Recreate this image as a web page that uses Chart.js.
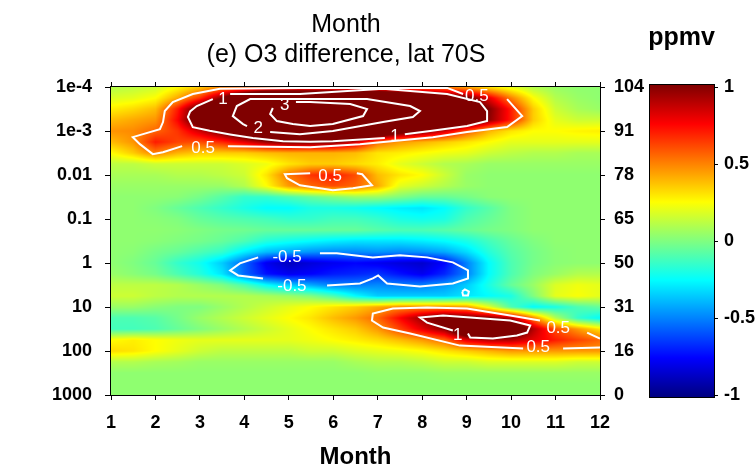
<!DOCTYPE html>
<html>
<head>
<meta charset="utf-8">
<script src="https://cdn.jsdelivr.net/npm/chart.js@4/dist/chart.umd.min.js"></script>
<style>
  html, body { margin: 0; padding: 0; background: #fff; }
  canvas { display: block; }
</style>
</head>
<body>
<canvas id="o3" width="755" height="467"></canvas>
<script>
// O3 difference at 70S: month vs pressure, shaded field plus white contours.

const MONTHS = [1, 1.5, 2, 2.5, 3, 3.5, 4, 4.5, 5, 5.5, 6, 6.5, 7, 7.5, 8, 8.5, 9, 9.5, 10, 10.5, 11, 11.5, 12];
// log10(pressure / hPa), top of the atmosphere first
const LOG_P = [-4, -3.75, -3.5, -3.25, -3, -2.75, -2.5, -2.25, -2, -1.75, -1.5, -1.25, -1, -0.75,
  -0.5, -0.25, 0, 0.25, 0.5, 0.75, 1, 1.25, 1.5, 1.75, 2, 2.25, 2.5, 2.75, 3];

// ppmv, one row per LOG_P level, one column per MONTHS entry
const O3_DIFF = [
  [0.1, 0.12, 0.15, 0.25, 0.35, 0.48, 0.52, 0.52, 0.52, 0.52, 0.52, 0.52, 0.52, 0.52, 0.52, 0.5, 0.42, 0.3, 0.2, 0.1, 0.05, 0.03, 0.03],
  [0.18, 0.2, 0.25, 0.42, 0.65, 1.0, 1.4, 1.8, 1.9, 1.9, 1.9, 1.9, 1.7, 1.5, 1.3, 1.15, 1.05, 0.8, 0.5, 0.25, 0.1, 0.05, 0.03],
  [0.28, 0.32, 0.38, 0.7, 1.15, 1.5, 2.2, 2.9, 3.5, 3.8, 3.8, 3.5, 2.6, 2.3, 1.9, 1.5, 1.25, 1.0, 0.7, 0.35, 0.15, 0.08, 0.05],
  [0.38, 0.42, 0.46, 0.75, 1.2, 1.6, 2.1, 2.7, 3.3, 3.6, 3.5, 3.1, 2.6, 2.3, 1.9, 1.5, 1.25, 0.98, 0.7, 0.35, 0.2, 0.15, 0.15],
  [0.46, 0.48, 0.55, 0.65, 0.85, 1.05, 1.3, 1.6, 1.95, 2.1, 2.0, 1.7, 1.4, 1.15, 1.02, 0.85, 0.6, 0.4, 0.3, 0.25, 0.25, 0.27, 0.28],
  [0.38, 0.46, 0.7, 0.62, 0.6, 0.68, 0.8, 0.95, 1.02, 1.02, 1.0, 0.85, 0.55, 0.45, 0.4, 0.35, 0.3, 0.25, 0.2, 0.2, 0.2, 0.2, 0.2],
  [0.25, 0.35, 0.5, 0.4, 0.35, 0.35, 0.35, 0.38, 0.4, 0.4, 0.4, 0.38, 0.3, 0.28, 0.25, 0.22, 0.2, 0.15, 0.12, 0.1, 0.1, 0.08, 0.08],
  [0.12, 0.12, 0.15, 0.15, 0.15, 0.15, 0.18, 0.22, 0.3, 0.35, 0.35, 0.32, 0.28, 0.2, 0.15, 0.1, 0.08, 0.05, 0.05, 0.05, 0.05, 0.05, 0.05],
  [0.08, 0.08, 0.08, 0.1, 0.1, 0.12, 0.15, 0.3, 0.52, 0.65, 0.7, 0.6, 0.38, 0.3, 0.25, 0.15, 0.05, 0.03, 0.03, 0.03, 0.03, 0.03, 0.03],
  [0.05, 0.05, 0.05, 0.05, 0.05, 0.05, 0.1, 0.25, 0.45, 0.55, 0.6, 0.55, 0.42, 0.2, 0.15, 0.1, 0.05, 0.03, 0.03, 0.03, 0.03, 0.03, 0.03],
  [0.03, 0.03, 0.03, 0.02, -0.02, -0.08, -0.15, -0.15, -0.1, -0.05, 0.0, 0.05, 0.05, 0.0, -0.05, -0.05, -0.02, 0.02, 0.03, 0.03, 0.03, 0.03, 0.03],
  [0.03, 0.03, 0.0, -0.05, -0.1, -0.15, -0.2, -0.25, -0.25, -0.2, -0.2, -0.22, -0.25, -0.28, -0.3, -0.25, -0.15, -0.08, 0.0, 0.03, 0.03, 0.03, 0.03],
  [0.03, 0.03, 0.02, 0.0, -0.05, -0.08, -0.1, -0.12, -0.15, -0.15, -0.12, -0.12, -0.15, -0.2, -0.22, -0.2, -0.1, -0.05, 0.0, 0.03, 0.03, 0.03, 0.03],
  [0.03, 0.03, 0.03, 0.02, 0.0, -0.02, -0.03, -0.05, -0.05, -0.05, -0.05, -0.05, -0.08, -0.1, -0.1, -0.08, -0.05, -0.02, 0.0, 0.03, 0.03, 0.03, 0.03],
  [0.03, 0.03, 0.02, 0.0, -0.02, -0.05, -0.1, -0.18, -0.22, -0.25, -0.28, -0.3, -0.3, -0.3, -0.28, -0.25, -0.2, -0.12, -0.05, 0.0, 0.03, 0.03, 0.03],
  [0.03, 0.02, -0.02, -0.05, -0.1, -0.15, -0.28, -0.38, -0.42, -0.46, -0.48, -0.48, -0.46, -0.48, -0.46, -0.42, -0.32, -0.18, -0.08, -0.02, 0.02, 0.03, 0.03],
  [0.03, 0.0, -0.05, -0.15, -0.22, -0.35, -0.55, -0.78, -0.88, -0.82, -0.78, -0.75, -0.78, -0.82, -0.85, -0.75, -0.5, -0.25, -0.1, -0.02, 0.02, 0.03, 0.03],
  [0.05, 0.02, -0.02, -0.1, -0.18, -0.3, -0.55, -0.72, -0.78, -0.75, -0.7, -0.68, -0.65, -0.72, -0.78, -0.68, -0.5, -0.25, -0.1, 0.0, 0.05, 0.1, 0.1],
  [0.12, 0.12, 0.12, 0.1, 0.05, 0.0, -0.1, -0.25, -0.35, -0.42, -0.5, -0.5, -0.48, -0.5, -0.5, -0.45, -0.35, -0.2, -0.05, 0.05, 0.18, 0.22, 0.2],
  [0.15, 0.15, 0.12, 0.1, 0.1, 0.1, 0.1, 0.08, 0.05, 0.0, -0.1, -0.25, -0.35, -0.35, -0.35, -0.35, -0.3, -0.25, -0.2, 0.0, 0.2, 0.24, 0.2],
  [0.05, 0.05, 0.02, 0.0, 0.0, 0.05, 0.1, 0.15, 0.2, 0.25, 0.3, 0.35, 0.42, 0.48, 0.48, 0.48, 0.45, 0.2, -0.1, -0.25, -0.2, -0.1, -0.05],
  [-0.1, -0.1, -0.08, -0.02, 0.05, 0.1, 0.15, 0.2, 0.25, 0.3, 0.38, 0.45, 0.55, 0.75, 0.95, 1.1, 1.05, 1.0, 0.9, 0.5, 0.1, -0.15, -0.25],
  [-0.12, -0.12, -0.1, -0.05, 0.0, 0.05, 0.1, 0.15, 0.2, 0.25, 0.3, 0.35, 0.45, 0.62, 0.8, 0.97, 1.4, 1.5, 1.3, 0.9, 0.6, 0.45, 0.3],
  [0.25, 0.28, 0.25, 0.22, 0.2, 0.2, 0.2, 0.2, 0.2, 0.22, 0.25, 0.28, 0.32, 0.38, 0.45, 0.55, 0.8, 0.9, 0.9, 0.8, 0.7, 0.62, 0.55],
  [0.32, 0.3, 0.25, 0.2, 0.15, 0.12, 0.12, 0.12, 0.12, 0.15, 0.15, 0.18, 0.2, 0.22, 0.25, 0.3, 0.35, 0.4, 0.45, 0.45, 0.45, 0.45, 0.45],
  [0.1, 0.1, 0.08, 0.07, 0.05, 0.05, 0.05, 0.05, 0.05, 0.05, 0.05, 0.08, 0.1, 0.1, 0.12, 0.15, 0.15, 0.18, 0.18, 0.18, 0.18, 0.15, 0.15],
  [0.03, 0.03, 0.03, 0.03, 0.03, 0.03, 0.03, 0.03, 0.03, 0.03, 0.03, 0.03, 0.04, 0.04, 0.04, 0.05, 0.05, 0.05, 0.05, 0.05, 0.05, 0.05, 0.05],
  [0.03, 0.03, 0.03, 0.03, 0.03, 0.03, 0.03, 0.03, 0.03, 0.03, 0.03, 0.03, 0.03, 0.03, 0.03, 0.03, 0.03, 0.03, 0.03, 0.03, 0.03, 0.03, 0.03],
  [0.03, 0.03, 0.03, 0.03, 0.03, 0.03, 0.03, 0.03, 0.03, 0.03, 0.03, 0.03, 0.03, 0.03, 0.03, 0.03, 0.03, 0.03, 0.03, 0.03, 0.03, 0.03, 0.03],
];

const P_TICKS = [1e-4, 1e-3, 0.01, 0.1, 1, 10, 100, 1000];
const P_TICK_LABELS = ['1e-4', '1e-3', '0.01', '0.1', '1', '10', '100', '1000'];
const ALT_TICK_LABELS = ['104', '91', '78', '65', '50', '31', '16', '0'];
const CBAR_TICKS = [-1, -0.5, 0, 0.5, 1];

// contour paths as [month, hPa], split where a label sits on the line
const C05_TOP_A = [[8.92, 1.44e-4], [8.56, 1.05e-4], [7.5, 1.05e-4], [5.25, 1.05e-4], [3.45, 1.1e-4], [2.84, 1.44e-4],
  [2.39, 2.2e-4], [2.21, 3.52e-4], [2.17, 6.27e-4], [2.1, 9.05e-4], [1.72, 1.18e-3], [1.49, 1.38e-3],
  [1.65, 1.99e-3], [1.94, 3.36e-3], [2.17, 3.03e-3], [2.6, 2.21e-3]];
const C05_TOP_B = [[3.63, 2.21e-3], [5.48, 2.33e-3], [6.6, 1.99e-3], [8.24, 1.38e-3], [9.01, 1.06e-3], [9.91, 8.15e-4],
  [10.25, 4.58e-4], [9.91, 1.88e-4]];
const C1_TOP_A = [[3.68, 1.44e-4], [5.25, 1.44e-4], [7.12, 1.1e-4], [7.73, 1.23e-4], [8.56, 1.44e-4], [9.3, 2.2e-4],
  [9.46, 3.52e-4], [9.46, 5.95e-4], [9.01, 7.73e-4], [8.18, 1.0e-3], [7.61, 1.18e-3]];
const C1_TOP_B = [[7.16, 1.45e-3], [5.99, 1.7e-3], [5.48, 1.75e-3], [4.87, 1.7e-3], [4.19, 1.45e-3], [3.68, 1.2e-3],
  [3.22, 9.9e-4], [2.84, 8.2e-4], [2.73, 4.82e-4], [2.78, 3.6e-4], [2.93, 2.71e-4], [3.29, 1.88e-4]];
const C2_TOP = [[4.06, 7.73e-4], [3.97, 6.96e-4], [3.74, 4.58e-4], [3.83, 2.71e-4], [4.13, 1.88e-4], [5.25, 1.88e-4],
  [6.76, 1.88e-4], [7.73, 2.71e-4], [7.95, 3.52e-4], [7.79, 4.82e-4], [7.12, 6.27e-4], [5.99, 1.0e-3],
  [5.25, 1.18e-3], [4.58, 1.06e-3]];
const C3_TOP = [[5.16, 2.2e-4], [5.48, 2.2e-4], [6.38, 2.44e-4], [6.76, 3.17e-4], [6.67, 4.58e-4], [5.99, 6.96e-4],
  [5.48, 7.73e-4], [5.09, 6.96e-4], [4.73, 5.95e-4], [4.58, 4.12e-4], [4.64, 3.0e-4]];
const C05_MID = [[6.53, 9.1e-3], [6.65, 9.6e-3], [6.87, 0.0171], [6.44, 0.02], [5.99, 0.0222], [5.7, 0.02],
  [5.25, 0.0171], [4.96, 0.0118], [4.91, 9.6e-3], [5.48, 9.1e-3]];
const CN05_A = [[5.7, 0.604], [6.08, 0.604], [6.89, 0.745], [7.5, 0.671], [8.11, 0.745], [8.69, 0.968], [9.03, 1.47],
  [9.03, 2.24], [8.69, 2.92], [7.95, 3.41], [7.21, 2.92], [7.01, 1.92], [6.89, 2.24], [6.6, 2.92], [5.86, 3.24]];
const CN05_B = [[4.31, 0.745], [3.9, 1.02], [3.68, 1.47], [3.86, 1.92], [4.42, 2.24]];
const CN05_DOT = [[8.9, 4.43], [8.96, 3.99], [9.05, 4.43], [9.03, 5.47], [8.92, 5.47], [8.9, 4.43]];
const C05_LOW_A = [[10.65, 20.3], [9.98, 15.6], [9.01, 10.8], [8.11, 10.3], [7.34, 10.8], [6.89, 14.1], [6.87, 20.3],
  [7.12, 29.3], [7.73, 40.2], [8.85, 75.4], [10.27, 88.2]];
const C05_LOW_B = [[11.17, 88.2], [12, 83.7]];
const C05_LOW_C = [[11.71, 38.1], [12, 52.2]];
const C1_LOW = [[9.03, 40.2], [9.08, 49.5], [9.59, 52.2], [10.13, 44.6], [10.36, 38.1], [10.43, 26.4], [9.98, 20.3],
  [9.08, 17.3], [8.47, 15.6], [7.95, 17.3], [8.11, 22.6], [8.69, 34.3]];

const CONTOUR_PATHS = [C05_TOP_A, C05_TOP_B, C1_TOP_A, C1_TOP_B, C2_TOP, C3_TOP, C05_MID,
  CN05_A, CN05_B, CN05_DOT, C05_LOW_A, C05_LOW_B, C05_LOW_C, C1_LOW];

const CONTOUR_LABELS = [
  { text: '0.5', month: 3.07, p: 2.45e-3 },
  { text: '1', month: 3.52, p: 1.95e-4 },
  { text: '2', month: 4.31, p: 8.6e-4 },
  { text: '3', month: 4.91, p: 2.6e-4 },
  { text: '0.5', month: 9.23, p: 1.65e-4 },
  { text: '1', month: 7.39, p: 1.35e-3 },
  { text: '0.5', month: 5.93, p: 0.0106 },
  { text: '-0.5', month: 4.96, p: 0.745 },
  { text: '-0.5', month: 5.07, p: 3.41 },
  { text: '0.5', month: 10.61, p: 83.7 },
  { text: '0.5', month: 11.06, p: 30.9 },
  { text: '1', month: 8.8, p: 44.6 },
];

function jet(v) {
  const t = Math.min(1, Math.max(0, (v + 1) / 2));
  const ch = (c) => Math.round(255 * Math.min(1, Math.max(0, 1.5 - Math.abs(4 * t - c))));
  return [ch(3), ch(2), ch(1)];
}

function sample(month, logP) {
  const fx = Math.min(MONTHS.length - 1, Math.max(0, (month - MONTHS[0]) / (MONTHS[1] - MONTHS[0])));
  const fy = Math.min(LOG_P.length - 1, Math.max(0, (logP - LOG_P[0]) / (LOG_P[1] - LOG_P[0])));
  const i0 = Math.min(MONTHS.length - 2, Math.floor(fx));
  const j0 = Math.min(LOG_P.length - 2, Math.floor(fy));
  const tx = fx - i0, ty = fy - j0;
  const a = O3_DIFF[j0][i0], b = O3_DIFF[j0][i0 + 1];
  const c = O3_DIFF[j0 + 1][i0], d = O3_DIFF[j0 + 1][i0 + 1];
  return (a * (1 - tx) + b * tx) * (1 - ty) + (c * (1 - tx) + d * tx) * ty;
}

const BAR_WIDTH = 65;

const heatmapPlugin = {
  id: 'heatmap',
  beforeDatasetsDraw(chart) {
    const { ctx, chartArea: a, scales: { x, y } } = chart;
    const w = Math.round(a.right - a.left);
    const h = Math.round(a.bottom - a.top);
    const off = document.createElement('canvas');
    off.width = w;
    off.height = h;
    const octx = off.getContext('2d');
    const img = octx.createImageData(w, h);
    for (let j = 0; j < h; j++) {
      const logP = Math.log10(y.getValueForPixel(a.top + j + 0.5));
      for (let i = 0; i < w; i++) {
        const [r, g, b] = jet(sample(x.getValueForPixel(a.left + i + 0.5), logP));
        const k = (j * w + i) * 4;
        img.data[k] = r;
        img.data[k + 1] = g;
        img.data[k + 2] = b;
        img.data[k + 3] = 255;
      }
    }
    octx.putImageData(img, 0, 0);
    ctx.drawImage(off, a.left, a.top);
  },
  afterDatasetsDraw(chart) {
    const { ctx, chartArea: a, scales: { x, y, cb } } = chart;
    ctx.save();
    // contour labels
    ctx.fillStyle = '#fff';
    ctx.font = '17px "Liberation Sans", Arial, sans-serif';
    ctx.textAlign = 'center';
    ctx.textBaseline = 'middle';
    CONTOUR_LABELS.forEach((l) => ctx.fillText(l.text, x.getPixelForValue(l.month), y.getPixelForValue(l.p)));

    // plot frame
    ctx.strokeStyle = '#000';
    ctx.lineWidth = 1;
    ctx.strokeRect(a.left - 0.5, a.top - 0.5, a.right - a.left + 1, a.bottom - a.top + 1);

    // colour bar, sitting in the transparent tick band of the cb axis
    const left = cb.left, right = cb.left + BAR_WIDTH;
    const top = cb.getPixelForValue(1) - 2, bottom = cb.getPixelForValue(-1) + 2;
    const grad = ctx.createLinearGradient(0, bottom, 0, top);
    for (let s = 0; s <= 32; s++) {
      const [r, g, b] = jet(-1 + s / 16);
      grad.addColorStop(s / 32, `rgb(${r},${g},${b})`);
    }
    ctx.fillStyle = grad;
    ctx.fillRect(left, top, right - left, bottom - top);
    ctx.strokeRect(left + 0.5, top - 0.5, right - left, bottom - top + 1);
    CBAR_TICKS.forEach((v) => {
      const py = Math.round(cb.getPixelForValue(v)) + 0.5;
      ctx.beginPath();
      ctx.moveTo(right, py);
      ctx.lineTo(right + 4, py);
      ctx.stroke();
    });
    ctx.fillStyle = '#000';
    ctx.font = 'bold 25px "Liberation Sans", Arial, sans-serif';
    ctx.textAlign = 'center';
    ctx.fillText('ppmv', (left + right) / 2, 38);
    ctx.restore();
  },
};

Chart.defaults.font.family = '"Liberation Sans", Arial, sans-serif';
Chart.defaults.color = '#000';

const tickFont = { size: 18, weight: 'bold' };
const frameGrid = (len) => ({ drawOnChartArea: false, drawTicks: true, tickLength: len, color: '#000' });
const decades = (scale) => { scale.ticks = P_TICKS.map((v) => ({ value: v })); };

new Chart(document.getElementById('o3'), {
  type: 'scatter',
  data: {
    datasets: CONTOUR_PATHS.map((path) => ({
      data: path.map(([m, p]) => ({ x: m, y: p })),
      showLine: true,
      borderColor: '#fff',
      borderWidth: 2,
      pointRadius: 0,
      pointHoverRadius: 0,
      tension: 0,
      fill: false,
    })),
  },
  options: {
    responsive: false,
    animation: false,
    devicePixelRatio: 1,
    // negative left padding shifts the full-width title left, as in the original figure
    layout: { padding: { left: -63, right: 0, top: 0, bottom: 0 } },
    scales: {
      x: {
        type: 'linear', position: 'bottom', min: 1, max: 12,
        ticks: { stepSize: 1, font: tickFont, padding: 12 },
        grid: frameGrid(5),
        border: { display: true, color: '#000' },
        title: { display: true, text: 'Month', font: { size: 24, weight: 'bold', lineHeight: 0.8 }, padding: 0 },
        afterFit: (s) => { s.height = 72; },
      },
      x2: {
        type: 'linear', position: 'top', min: 1, max: 12,
        ticks: { stepSize: 1, display: false },
        grid: frameGrid(5),
        border: { display: true, color: '#000' },
        afterFit: (s) => { s.height = 17; },
      },
      y: {
        type: 'logarithmic', position: 'left', min: 1e-4, max: 1000, reverse: true,
        afterBuildTicks: decades,
        ticks: { font: tickFont, padding: 13, callback: (v, i) => P_TICK_LABELS[i] },
        grid: frameGrid(6),
        border: { display: true, color: '#000' },
        afterFit: (s) => { s.width = 174; },
      },
      y2: {
        type: 'logarithmic', position: 'right', min: 1e-4, max: 1000, reverse: true, weight: 1,
        afterBuildTicks: decades,
        ticks: { font: tickFont, padding: 9, callback: (v, i) => ALT_TICK_LABELS[i] },
        grid: frameGrid(5),
        border: { display: true, color: '#000' },
        afterFit: (s) => { s.width = 49; },
      },
      cb: {
        type: 'linear', position: 'right', min: -1, max: 1, weight: 2,
        afterBuildTicks: (s) => { s.ticks = CBAR_TICKS.map((v) => ({ value: v })); },
        ticks: { font: tickFont, padding: 10, callback: (v) => String(v) },
        grid: { display: true, drawOnChartArea: false, drawTicks: true, tickLength: BAR_WIDTH, color: 'rgba(0,0,0,0)' },
        border: { display: false },
        afterFit: (s) => { s.width = 106; },
      },
    },
    plugins: {
      legend: { display: false },
      tooltip: { enabled: false },
      title: {
        display: true,
        text: ['Month', '(e) O3 difference, lat 70S'],
        font: { size: 25, weight: 'normal', lineHeight: 1.2 },
        color: '#000',
        padding: { top: 10, bottom: 0 },
      },
    },
  },
  plugins: [heatmapPlugin],
});
</script>
</body>
</html>
